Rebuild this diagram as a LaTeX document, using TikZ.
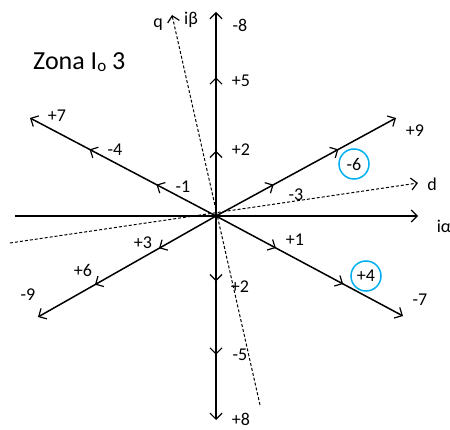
\documentclass[tikz,border=0pt]{standalone}
\usepackage{fontspec}
\setmainfont{Carlito}
\usetikzlibrary{arrows.meta,decorations.markings}
\definecolor{ringblue}{RGB}{0,176,240}
\tikzset{
  tip/.tip={Straight Barb[length=6pt,width=12pt,line width=1.2pt]},
  axis/.style={line width=1.5pt, -tip},
  twoticks/.style={postaction={decorate}, decoration={markings,
    mark=at position 0.32 with {\arrow{tip}},
    mark=at position 0.68 with {\arrow{tip}}}},
  dq/.style={line width=1pt, dash pattern=on 3pt off 2pt, -tip},
  lbl/.style={font=\fontsize{18}{20}\selectfont, inner sep=0pt},
  ring/.style={draw=ringblue, line width=1.5pt, circle, minimum size=30pt, inner sep=0pt}
}
\begin{document}
\begin{tikzpicture}[x=1pt, y=-1pt]
  \useasboundingbox (0,0) rectangle (450,430);
  \coordinate (o) at (216,216);
  \coordinate (up) at (216,12);
  \coordinate (dn) at (216,420);
  \coordinate (l) at (15,216);
  \coordinate (r) at (418,216);
  \coordinate (ne) at (396,118);
  \coordinate (se) at (403,316);
  \coordinate (nw) at (30,118);
  \coordinate (sw) at (38,317);
  \coordinate (qa) at (260,405);
  \coordinate (qb) at (172,15);
  \coordinate (da) at (10,243);
  \coordinate (db) at (418,183);
  % dashed dq frame
  \draw[dq] (qa) -- (qb);
  \draw[dq] (da) -- (db);
  % alpha-beta axis and vectors
  \draw[axis] (l) -- (r);
  \draw[axis, twoticks] (o) -- (up);
  \draw[axis, twoticks] (o) -- (dn);
  \draw[axis, twoticks] (o) -- (ne);
  \draw[axis, twoticks] (o) -- (se);
  \draw[axis, twoticks] (o) -- (nw);
  \draw[axis, twoticks] (o) -- (sw);
  % labels
  \node[lbl, anchor=base west] (zona) at (33,70)
    {\fontsize{26}{28}\selectfont Zona I\raisebox{-0.1ex}{\fontsize{17}{18}\selectfont o} 3};
  \node[lbl, anchor=base] (lq) at (158,28) {q};
  \node[lbl] (lb) at (191,20) {iβ};
  \node[lbl] (ld) at (432,184) {d};
  \node[lbl] (la) at (444,226) {iα};
  \node[lbl] (m8) at (240,25) {-8};
  \node[lbl] (p5) at (241,81) {+5};
  \node[lbl] (p2) at (241,150) {+2};
  \node[lbl] (p2b) at (240,287) {+2};
  \node[lbl] (m5) at (240,355) {-5};
  \node[lbl] (p8) at (241,419) {+8};
  \node[lbl] (p9) at (415,131) {+9};
  \node[lbl, ring] (m6) at (354,164) {-6};
  \node[lbl] (m3) at (296,195) {-3};
  \node[lbl] (p1) at (295,240) {+1};
  \node[lbl, ring] (p4) at (366,276) {+4};
  \node[lbl] (m7) at (420,300) {-7};
  \node[lbl] (p7) at (57,116) {+7};
  \node[lbl] (m4) at (115,150) {-4};
  \node[lbl] (m1) at (183,187) {-1};
  \node[lbl] (p3) at (143,243) {+3};
  \node[lbl] (p6) at (83,270) {+6};
  \node[lbl] (m9) at (28,295) {-9};
\end{tikzpicture}
\end{document}
